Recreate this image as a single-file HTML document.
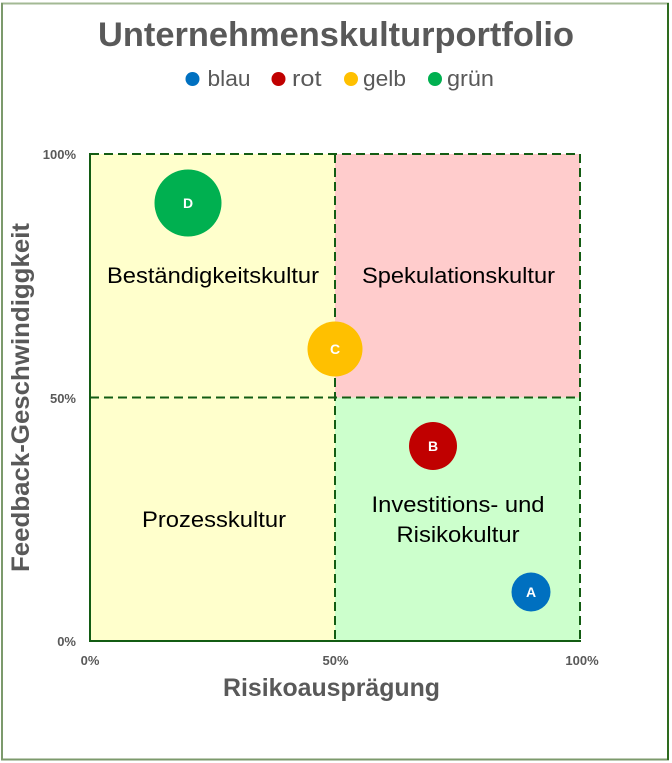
<!DOCTYPE html>
<html><head><meta charset="utf-8"><style>
html,body{margin:0;padding:0;background:#fff;}
svg{display:block;}
text{font-family:"Liberation Sans",Arial,sans-serif;}
</style></head><body>
<svg width="672" height="763" viewBox="0 0 672 763" xmlns="http://www.w3.org/2000/svg">
<rect x="0" y="0" width="672" height="763" fill="#fff"/>
<!-- outer border -->
<line x1="1" y1="3.5" x2="669" y2="3.5" stroke="#a3b994" stroke-width="2"/>
<line x1="2" y1="3" x2="2" y2="760" stroke="#7c9a6c" stroke-width="2"/>
<line x1="1" y1="759.5" x2="669" y2="759.5" stroke="#7c9a6c" stroke-width="2"/>
<line x1="668" y1="3" x2="668" y2="760" stroke="#2e6b1e" stroke-width="2"/>

<!-- title -->
<text x="336" y="46" font-size="34" font-weight="bold" fill="#595959" text-anchor="middle" textLength="476" lengthAdjust="spacingAndGlyphs">Unternehmenskulturportfolio</text>

<!-- legend -->
<circle cx="192.5" cy="79" r="7" fill="#0070C0"/>
<text x="207.5" y="86" font-size="22" fill="#595959" textLength="43" lengthAdjust="spacingAndGlyphs">blau</text>
<circle cx="278.5" cy="79" r="7" fill="#C00000"/>
<text x="292" y="86" font-size="22" fill="#595959" textLength="29.5" lengthAdjust="spacingAndGlyphs">rot</text>
<circle cx="351" cy="79" r="7" fill="#FFC000"/>
<text x="363" y="86" font-size="22" fill="#595959" textLength="43" lengthAdjust="spacingAndGlyphs">gelb</text>
<circle cx="435" cy="79" r="7" fill="#00B050"/>
<text x="447" y="86" font-size="22" fill="#595959" textLength="47" lengthAdjust="spacingAndGlyphs">grün</text>

<!-- quadrants -->
<rect x="90" y="154" width="245" height="243.5" fill="#FFFFCC"/>
<rect x="335" y="154" width="245" height="243.5" fill="#FFCCCC"/>
<rect x="90" y="397.5" width="245" height="243.5" fill="#FFFFCC"/>
<rect x="335" y="397.5" width="245" height="243.5" fill="#CCFFCC"/>

<!-- dashed lines -->
<g stroke="#135c13" stroke-width="2" fill="none" stroke-dasharray="9,5">
<line x1="90" y1="154" x2="580" y2="154"/>
<line x1="580" y1="154" x2="580" y2="641"/>
<line x1="335" y1="154" x2="335" y2="641"/>
<line x1="90" y1="397.5" x2="580" y2="397.5"/>
</g>
<!-- solid axes -->
<g stroke="#135c13" stroke-width="2" fill="none">
<line x1="90" y1="153" x2="90" y2="642"/>
<line x1="89" y1="641" x2="581" y2="641"/>
</g>

<!-- quadrant labels -->
<g font-size="22" fill="#000" text-anchor="middle">
<text x="213" y="283" textLength="212" lengthAdjust="spacingAndGlyphs">Beständigkeitskultur</text>
<text x="458.5" y="283" textLength="193" lengthAdjust="spacingAndGlyphs">Spekulationskultur</text>
<text x="214" y="527" textLength="144" lengthAdjust="spacingAndGlyphs">Prozesskultur</text>
<text x="458" y="512" textLength="173" lengthAdjust="spacingAndGlyphs">Investitions- und</text>
<text x="458" y="542" textLength="123" lengthAdjust="spacingAndGlyphs">Risikokultur</text>
</g>

<!-- bubbles -->
<circle cx="188" cy="203" r="33.5" fill="#00B050"/>
<circle cx="335" cy="349" r="27.5" fill="#FFC000"/>
<circle cx="433" cy="446" r="24" fill="#C00000"/>
<circle cx="531" cy="592" r="19.5" fill="#0070C0"/>
<g font-size="14" font-weight="bold" fill="#fff" text-anchor="middle">
<text x="188" y="208">D</text>
<text x="335" y="354">C</text>
<text x="433" y="451">B</text>
<text x="531" y="597">A</text>
</g>

<!-- tick labels -->
<g font-size="13" font-weight="bold" fill="#595959">
<text x="76" y="159" text-anchor="end">100%</text>
<text x="76" y="403" text-anchor="end">50%</text>
<text x="76" y="646" text-anchor="end">0%</text>
<text x="90" y="665" text-anchor="middle">0%</text>
<text x="335.5" y="665" text-anchor="middle">50%</text>
<text x="582" y="665" text-anchor="middle">100%</text>
</g>

<!-- axis titles -->
<text x="331.5" y="696" font-size="25" font-weight="bold" fill="#595959" text-anchor="middle" textLength="217" lengthAdjust="spacingAndGlyphs">Risikoausprägung</text>
<text transform="translate(29,397.5) rotate(-90)" x="0" y="0" font-size="25" font-weight="bold" fill="#595959" text-anchor="middle" textLength="349" lengthAdjust="spacingAndGlyphs">Feedback-Geschwindiggkeit</text>
</svg>
</body></html>
